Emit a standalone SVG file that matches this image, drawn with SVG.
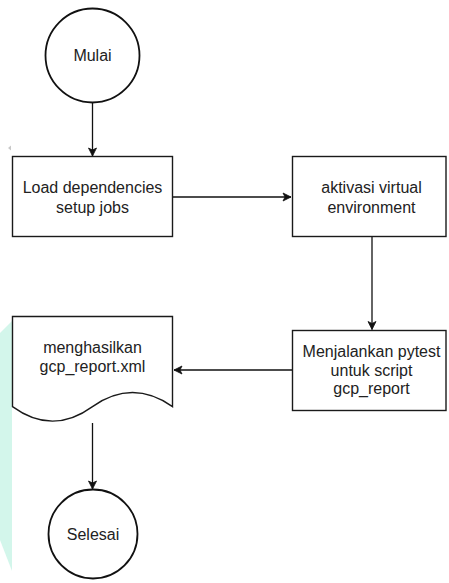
<svg xmlns="http://www.w3.org/2000/svg" width="449" height="583" viewBox="0 0 449 583">
  <style>
    .shape { fill: #ffffff; stroke: #1a1a1a; stroke-width: 1.4; }
    .term { fill: #ffffff; stroke: #111111; stroke-width: 1.8; }
    .edge { fill: none; stroke: #111111; stroke-width: 1.3; }
    .label { font-family: "Liberation Sans", Arial, Helvetica, sans-serif; font-size: 16px; fill: #222222; text-anchor: middle; }
  </style>
  <defs>
    <marker id="arrow" markerWidth="10" markerHeight="10" refX="9" refY="5" orient="auto" markerUnits="userSpaceOnUse">
      <path d="M1,1 L9,5 L1,9 L3,5 Z" fill="#111111" stroke="#111111" stroke-width="0.8" stroke-linejoin="miter"/>
    </marker>
  </defs>

  <rect width="449" height="583" fill="#ffffff"/>

  <!-- pale background mark along the left edge -->
  <polygon points="0,333 12,321 12,571 0,540" fill="#d3f6eb"/>
  <polygon points="8,148 11,145.5 11,150.5" fill="#c8c8c8"/>

  <g id="connectors">
    <line class="edge" x1="92.5" y1="103" x2="92.5" y2="156" marker-end="url(#arrow)"/>
    <line class="edge" x1="173" y1="197" x2="291" y2="197" marker-end="url(#arrow)"/>
    <line class="edge" x1="372" y1="237" x2="372" y2="329.5" marker-end="url(#arrow)"/>
    <line class="edge" x1="292" y1="370" x2="174" y2="370" marker-end="url(#arrow)"/>
    <line class="edge" x1="92.5" y1="423" x2="92.5" y2="489" marker-end="url(#arrow)"/>
  </g>

  <g id="mulai">
    <circle class="term" cx="92.5" cy="55.5" r="47"/>
    <text class="label" x="92.5" y="61">Mulai</text>
  </g>

  <g id="load-dependencies">
    <rect class="shape" x="12.5" y="156.5" width="160" height="80"/>
    <text class="label" x="92.5" y="192.5">Load dependencies</text>
    <text class="label" x="92.5" y="212.5">setup jobs</text>
  </g>

  <g id="aktivasi-venv">
    <rect class="shape" x="292.5" y="156.5" width="153.5" height="80"/>
    <text class="label" x="371.5" y="192.5">aktivasi virtual</text>
    <text class="label" x="371.5" y="212.5">environment</text>
  </g>

  <g id="menjalankan-pytest">
    <rect class="shape" x="292.5" y="330.5" width="153.5" height="80"/>
    <text class="label" x="371.5" y="357">Menjalankan pytest</text>
    <text class="label" x="371.5" y="375.5">untuk script</text>
    <text class="label" x="371.5" y="394">gcp_report</text>
  </g>

  <g id="gcp-report-xml">
    <!-- document shape: flat top, wavy bottom edge -->
    <path class="shape" d="M12.5,316.5 L172.5,316.5 L172.5,406.6 Q132.5,378.5 92.5,406.6 Q52.5,435.7 12.5,406.6 Z"/>
    <text class="label" x="92.5" y="352.5">menghasilkan</text>
    <text class="label" x="92.5" y="371.5">gcp_report.xml</text>
  </g>

  <g id="selesai">
    <circle class="term" cx="93" cy="534" r="44.5"/>
    <text class="label" x="93" y="539.5">Selesai</text>
  </g>
</svg>
